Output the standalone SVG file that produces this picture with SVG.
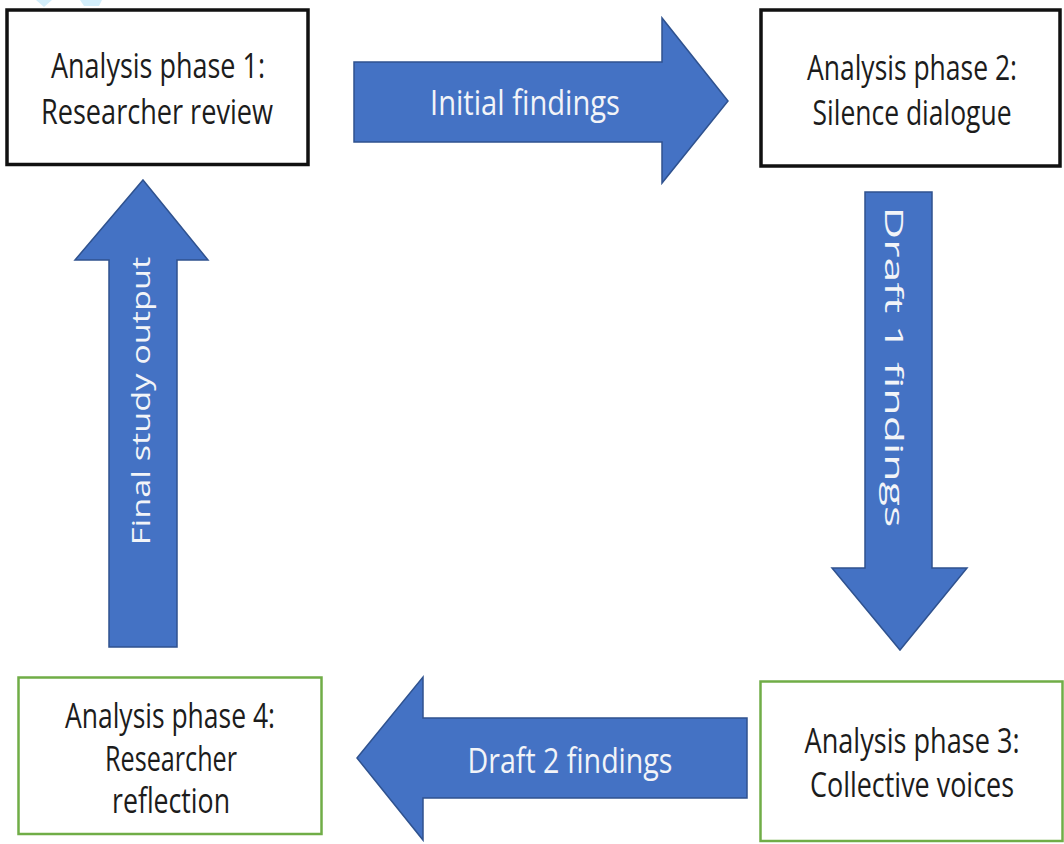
<svg xmlns="http://www.w3.org/2000/svg" width="1064" height="844" viewBox="0 0 1064 844">
<style>
.box-b{fill:#ffffff;stroke:#111111;stroke-width:3.5}
.box-g{fill:#ffffff;stroke:#70AD47;stroke-width:2.5}
.arrow{fill:#4472C4;stroke:#2F528F;stroke-width:1.5;stroke-linejoin:miter}
.t{font-family:"Open Sans","Liberation Sans",sans-serif;font-size:26px;fill:#1c1c1c;text-anchor:middle}
.ta{font-family:"Open Sans","Liberation Sans",sans-serif;font-size:26px;fill:#F2F4F8;text-anchor:middle}
.tv{font-family:"Open Sans","Liberation Sans",sans-serif;font-size:25px;fill:#F2F4F8;text-anchor:middle}
</style>
<rect width="1064" height="844" fill="#ffffff"/>
<g id="decor">
<polygon points="36,0 52,0 44,7" fill="#D3EEFB"/>
<polygon points="80,0 102,0 99,6 84,6" fill="#D3EEFB"/>
</g>
<g id="connectors">
<g id="arrow-initial">
<polygon class="arrow" points="354,62 662,62 662,18 728,101 662,183 662,142 354,142"/>
<text class="ta" transform="translate(525,115) scale(1,1.35)" x="0" y="0" textLength="190" lengthAdjust="spacingAndGlyphs">Initial findings</text>
</g>
<g id="arrow-draft1">
<polygon class="arrow" points="865,192 932,192 932,568 967,568 900,650 832,568 865,568"/>
<text class="tv" transform="translate(885,367) rotate(90) scale(1.78,1)" x="0" y="0" textLength="180" lengthAdjust="spacingAndGlyphs">Draft 1 findings</text>
</g>
<g id="arrow-draft2">
<polygon class="arrow" points="357,758 423,677 423,718 747,718 747,798 423,798 423,840"/>
<text class="ta" transform="translate(570,773) scale(1,1.35)" x="0" y="0" textLength="205" lengthAdjust="spacingAndGlyphs">Draft 2 findings</text>
</g>
<g id="arrow-final">
<polygon class="arrow" points="143,180 208,260 177,260 177,647 109,647 109,260 75,260"/>
<text class="tv" transform="translate(150,401) rotate(-90) scale(1.36,1)" x="0" y="0" textLength="212" lengthAdjust="spacingAndGlyphs">Final study output</text>
</g>
</g>
<g id="node1">
<rect class="box-b" x="7" y="10" width="301" height="154.5"/>
<text class="t" transform="translate(158,78) scale(1,1.35)" x="0" y="0" textLength="214" lengthAdjust="spacingAndGlyphs">Analysis phase 1:</text>
<text class="t" transform="translate(157,124) scale(1,1.35)" x="0" y="0" textLength="232" lengthAdjust="spacingAndGlyphs">Researcher review</text>
</g>
<g id="node2">
<rect class="box-b" x="761" y="10" width="299" height="156"/>
<text class="t" transform="translate(912,80) scale(1,1.35)" x="0" y="0" textLength="210" lengthAdjust="spacingAndGlyphs">Analysis phase 2:</text>
<text class="t" transform="translate(912,125) scale(1,1.35)" x="0" y="0" textLength="199" lengthAdjust="spacingAndGlyphs">Silence dialogue</text>
</g>
<g id="node3">
<rect class="box-g" x="760.5" y="681.5" width="302" height="159.5"/>
<text class="t" transform="translate(912,753) scale(1,1.35)" x="0" y="0" textLength="215" lengthAdjust="spacingAndGlyphs">Analysis phase 3:</text>
<text class="t" transform="translate(912,797) scale(1,1.35)" x="0" y="0" textLength="204" lengthAdjust="spacingAndGlyphs">Collective voices</text>
</g>
<g id="node4">
<rect class="box-g" x="18.5" y="677.5" width="303" height="156.5"/>
<text class="t" transform="translate(170,728) scale(1,1.35)" x="0" y="0" textLength="210" lengthAdjust="spacingAndGlyphs">Analysis phase 4:</text>
<text class="t" transform="translate(171,771) scale(1,1.35)" x="0" y="0" textLength="132" lengthAdjust="spacingAndGlyphs">Researcher</text>
<text class="t" transform="translate(171,813) scale(1,1.35)" x="0" y="0" textLength="118" lengthAdjust="spacingAndGlyphs">reflection</text>
</g>
</svg>
